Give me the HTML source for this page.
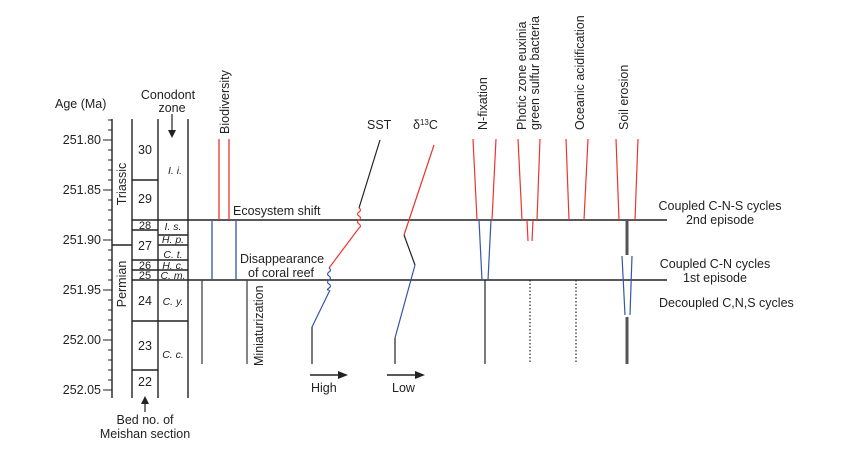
<!DOCTYPE html>
<html><head><style>body{margin:0;background:#fff}svg{display:block}text{font-family:"Liberation Sans",Arial,sans-serif;font-size:12.5px;fill:#222}</style></head><body>
<svg width="859" height="451" viewBox="0 0 859 451" xmlns="http://www.w3.org/2000/svg">
<g stroke="#222" stroke-width="1.4" fill="none">
<line x1="112" y1="119" x2="112" y2="398"/>
<line x1="132" y1="119" x2="132" y2="398"/>
<line x1="158" y1="119" x2="158" y2="398"/>
<line x1="188" y1="119" x2="188" y2="398"/>
<line x1="112" y1="245" x2="132" y2="245"/>
<line x1="132" y1="180" x2="158" y2="180"/>
<line x1="132" y1="230" x2="158" y2="230"/>
<line x1="132" y1="260" x2="188" y2="260"/>
<line x1="132" y1="270" x2="188" y2="270"/>
<line x1="132" y1="321" x2="188" y2="321"/>
<line x1="132" y1="370" x2="158" y2="370"/>
<line x1="158" y1="235" x2="188" y2="235"/>
<line x1="158" y1="245" x2="188" y2="245"/>
<line x1="132" y1="220" x2="667" y2="220"/>
<line x1="132" y1="280" x2="667" y2="280"/>
</g>
<g stroke="#222" stroke-width="1">
<line x1="103" y1="140" x2="112" y2="140"/><line x1="103" y1="190" x2="112" y2="190"/><line x1="103" y1="240" x2="112" y2="240"/><line x1="103" y1="290" x2="112" y2="290"/><line x1="103" y1="340" x2="112" y2="340"/><line x1="103" y1="390" x2="112" y2="390"/>
<path d="M108 120h4M108 130h4M108 150h4M108 160h4M108 170h4M108 180h4M108 200h4M108 210h4M108 220h4M108 230h4M108 250h4M108 260h4M108 270h4M108 280h4M108 300h4M108 310h4M108 320h4M108 330h4M108 350h4M108 360h4M108 370h4M108 380h4"/>
</g>
<g text-anchor="end">
<text x="101" y="144">251.80</text><text x="101" y="194">251.85</text><text x="101" y="244">251.90</text><text x="101" y="294">251.95</text><text x="101" y="344">252.00</text><text x="101" y="394">252.05</text>
</g>
<text x="55" y="108">Age (Ma)</text>
<text x="168" y="99" text-anchor="middle">Conodont</text>
<text x="172" y="112" text-anchor="middle">zone</text>
<path d="M172 114v18" stroke="#222" stroke-width="1.2"/><path d="M168 130l4 8 4-8z" fill="#222"/>
<text transform="translate(126,184) rotate(-90)" text-anchor="middle">Triassic</text>
<text transform="translate(126,284) rotate(-90)" text-anchor="middle">Permian</text>
<g text-anchor="middle">
<text x="145" y="154">30</text><text x="145" y="203">29</text><text x="145" y="229" style="font-size:11px">28</text><text x="145" y="250">27</text><text x="145" y="269" style="font-size:11px">26</text><text x="145" y="279" style="font-size:11px">25</text><text x="145" y="305">24</text><text x="145" y="350">23</text><text x="145" y="386">22</text>
</g>
<g text-anchor="middle" font-style="italic">
<text x="175" y="174" style="font-size:10.5px">I. i.</text><text x="173" y="230" style="font-size:10.5px">I. s.</text><text x="173" y="243" style="font-size:10.5px">H. p.</text><text x="173" y="258" style="font-size:10.5px">C. t.</text><text x="173" y="269" style="font-size:10.5px">H. c.</text><text x="173" y="279" style="font-size:10.5px">C. m.</text><text x="173" y="305" style="font-size:10.5px">C. y.</text><text x="173" y="358" style="font-size:10.5px">C. c.</text>
</g>
<path d="M145 412v-14" stroke="#222" stroke-width="1.2"/><path d="M141 404l4-8 4 8z" fill="#222"/>
<text x="145" y="424" text-anchor="middle">Bed no. of</text>
<text x="145" y="438" text-anchor="middle">Meishan section</text>
<text transform="translate(229,134) rotate(-90)">Biodiversity</text>
<g stroke-width="1.3">
<line x1="219" y1="139" x2="219" y2="220" stroke="#e33"/><line x1="229" y1="139" x2="229" y2="220" stroke="#e33"/>
<line x1="212" y1="220" x2="212" y2="280" stroke="#3355aa"/><line x1="236" y1="220" x2="236" y2="280" stroke="#3355aa"/>
<line x1="202" y1="280" x2="202" y2="364" stroke="#444"/><line x1="247" y1="280" x2="247" y2="364" stroke="#444"/>
</g>
<text x="233" y="215">Ecosystem shift</text>
<text x="240" y="263">Disappearance</text>
<text x="248" y="277">of coral reef</text>
<text transform="translate(263,366) rotate(-90)">Miniaturization</text>
<text x="367" y="129">SST</text>
<g fill="none" stroke-width="1.2">
<path d="M380 140L359 208" stroke="#222"/>
<path d="M359 208q3 2 0 4q-3 2 0 4q3 2 0 4q-3 2 0 4q3 2 0 4" stroke="#e33"/>
<path d="M359 228L329 268" stroke="#e33"/>
<path d="M329 268q3 2 0 4q-3 2 0 4q3 2 0 4q-3 2 0 4q3 2 0 4q-3 2 0 2" stroke="#3355aa"/>
<path d="M330 290L312 327" stroke="#3355aa"/>
<path d="M312 327V364" stroke="#222"/>
<path d="M434 145L404 235" stroke="#e33"/>
<path d="M404 235L415 265" stroke="#222"/>
<path d="M415 265L395 338" stroke="#3355aa"/>
<path d="M395 338V364" stroke="#222"/>
</g>
<text x="413" y="129">δ<tspan style="font-size:8px" dy="-4">13</tspan><tspan dy="4">C</tspan></text>
<path d="M310 375h30" stroke="#222" stroke-width="1.5"/><path d="M338 371l10 4-10 4z" fill="#222"/>
<path d="M387 375h30" stroke="#222" stroke-width="1.5"/><path d="M415 371l10 4-10 4z" fill="#222"/>
<text x="311" y="392">High</text><text x="392" y="392">Low</text>
<text transform="translate(487,130) rotate(-90)">N-fixation</text>
<text transform="translate(526,130) rotate(-90)">Photic zone euxinia</text>
<text transform="translate(539,130) rotate(-90)">green sulfur bacteria</text>
<text transform="translate(584,130) rotate(-90)">Oceanic acidification</text>
<text transform="translate(628,130) rotate(-90)">Soil erosion</text>
<g stroke-width="1.2" fill="none">
<path d="M473 139L477 220M496 139L492 220M518 139L522 220M540 139L537 220M527 220L528 241M533 220L532 241M566 139L569 220M588 139L584 220M616 139L619 220M638 139L635 220" stroke="#e33"/>
<path d="M479 220L482 280M491 220L488 280M622 256L625 315M632 256L630 315" stroke="#3355aa"/>
<path d="M485 280V364" stroke="#222"/>
<path d="M530 280V364M576 280V364" stroke="#222" stroke-dasharray="1.5 2"/>
<path d="M627 220V255M627 317V364" stroke="#555" stroke-width="3"/>
</g>
<g text-anchor="middle">
<text x="720" y="210">Coupled C-N-S cycles</text><text x="720" y="224">2nd episode</text>
<text x="715" y="268">Coupled C-N cycles</text><text x="715" y="282">1st episode</text>
</g>
<text x="659" y="307">Decoupled C,N,S cycles</text>
</svg>
</body></html>
